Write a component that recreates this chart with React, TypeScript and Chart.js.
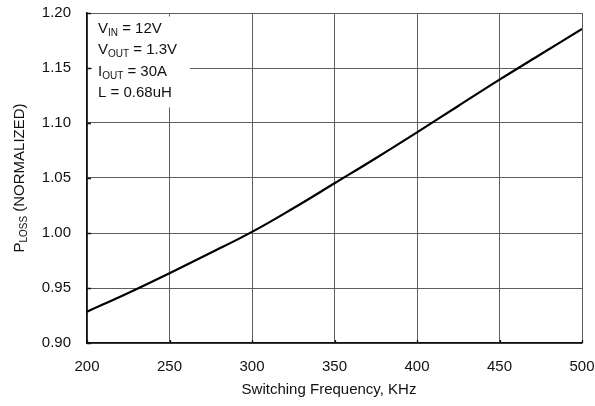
import React, { useEffect, useRef } from "react";
import { Chart, registerables } from "chart.js";

Chart.register(...registerables);

// ---- data ----
const frequencies = [200, 225, 250, 275, 300, 325, 350, 375, 400, 425, 450, 475, 500];
const ploss = [0.9285, 0.9455, 0.9635, 0.982, 1.001, 1.0225, 1.0452, 1.068, 1.0915, 1.1155, 1.1394, 1.1625, 1.1854];
const xTickValues = [200, 250, 300, 350, 400, 450, 500];
const yTickValues = [0.9, 0.95, 1.0, 1.05, 1.1, 1.15, 1.2];
const xTitle = "Switching Frequency, KHz";
type Part = [string, boolean];
const yTitleParts: Part[] = [["P", false], ["LOSS", true], [" (NORMALIZED)", false]];
const noteLines: Part[][] = [
  [["V", false], ["IN", true], [" = 12V", false]],
  [["V", false], ["OUT", true], [" = 1.3V", false]],
  [["I", false], ["OUT", true], [" = 30A", false]],
  [["L = 0.68uH", false]],
];

const FONT = "'Liberation Sans', Arial, Helvetica, sans-serif";
const MAIN = 15;
const SUB = 10;
const TEXT = "#111111";

function richWidth(ctx: CanvasRenderingContext2D, parts: Part[]) {
  let w = 0;
  for (const [t, sub] of parts) {
    ctx.font = `${sub ? SUB : MAIN}px ${FONT}`;
    w += ctx.measureText(t).width;
  }
  return w;
}

function drawRich(ctx: CanvasRenderingContext2D, parts: Part[], x: number, y: number) {
  ctx.textAlign = "left";
  ctx.textBaseline = "alphabetic";
  let cx = x;
  for (const [t, sub] of parts) {
    ctx.font = `${sub ? SUB : MAIN}px ${FONT}`;
    ctx.fillText(t, cx, sub ? y + 3 : y);
    cx += ctx.measureText(t).width;
  }
}

const decorPlugin = {
  id: "decor",
  afterDraw(chart: any) {
    const ctx: CanvasRenderingContext2D = chart.ctx;
    const { left, top, bottom } = chart.chartArea;
    const xs = chart.scales.x;
    const ys = chart.scales.y;
    ctx.save();
    // inner ticks
    ctx.strokeStyle = "#111";
    ctx.lineWidth = 1.3;
    ctx.beginPath();
    for (const v of yTickValues) {
      const py = Math.round(ys.getPixelForValue(v)) + 0.5;
      ctx.moveTo(left, py);
      ctx.lineTo(left + 4, py);
    }
    for (const v of xTickValues) {
      const px = Math.round(xs.getPixelForValue(v)) + 0.5;
      ctx.moveTo(px, bottom);
      ctx.lineTo(px, bottom - 3);
    }
    ctx.stroke();
    // annotation box
    ctx.fillStyle = "#ffffff";
    ctx.fillRect(left + 5, top + 3.5, 98, 91);
    ctx.fillStyle = TEXT;
    noteLines.forEach((line, i) => drawRich(ctx, line, 98, 33 + i * 21.3));
    // x title
    ctx.font = `${MAIN}px ${FONT}`;
    ctx.textAlign = "center";
    ctx.textBaseline = "alphabetic";
    ctx.fillText(xTitle, 329, 394);
    // y title
    const w = richWidth(ctx, yTitleParts);
    ctx.translate(24, (top + bottom) / 2);
    ctx.rotate(-Math.PI / 2);
    drawRich(ctx, yTitleParts, -w / 2, 0);
    ctx.restore();
  },
};

const zeroPad = (s: any) => {
  s.paddingLeft = 0;
  s.paddingRight = 0;
  s.paddingTop = 0;
  s.paddingBottom = 0;
};

export default function App() {
  const ref = useRef<HTMLCanvasElement>(null);
  useEffect(() => {
    if (!ref.current) return;
    const chart = new Chart(ref.current, {
      type: "line",
      data: {
        datasets: [
          {
            data: frequencies.map((f, i) => ({ x: f, y: ploss[i] })),
            borderColor: "#000",
            borderWidth: 2.2,
            pointRadius: 0,
            tension: 0.4,
            fill: false,
          },
        ],
      },
      options: {
        animation: false,
        responsive: false,
        devicePixelRatio: 1,
        events: [],
        layout: { padding: { left: 0, top: 13, right: 13, bottom: 0 } },
        plugins: { legend: { display: false }, tooltip: { enabled: false } },
        scales: {
          x: {
            type: "linear",
            min: 200,
            max: 500,
            afterBuildTicks: (s: any) => {
              s.ticks = xTickValues.map((v) => ({ value: v }));
            },
            afterFit: (s: any) => {
              s.height = 63;
              zeroPad(s);
            },
            grid: { color: "#5e5e5e", lineWidth: 1, drawTicks: false },
            border: { color: "#111", width: 1.5 },
            ticks: {
              padding: 15,
              color: TEXT,
              font: { family: FONT, size: MAIN },
              maxRotation: 0,
              callback: (v: any) => String(v),
            },
          },
          y: {
            type: "linear",
            min: 0.9,
            max: 1.2,
            afterBuildTicks: (s: any) => {
              s.ticks = yTickValues.map((v) => ({ value: v }));
            },
            afterFit: (s: any) => {
              s.width = 87;
              zeroPad(s);
            },
            grid: { color: "#5e5e5e", lineWidth: 1, drawTicks: false },
            border: { color: "#111", width: 1.5 },
            ticks: {
              padding: 16,
              color: TEXT,
              font: { family: FONT, size: MAIN },
              callback: (v: any) => Number(v).toFixed(2),
            },
          },
        },
      },
      plugins: [decorPlugin],
    } as any);
    return () => chart.destroy();
  }, []);
  return (
    <div style={{ position: "fixed", left: 0, top: 0, width: 595, height: 406, background: "#fff" }}>
      <canvas ref={ref} width={595} height={406} style={{ width: 595, height: 406, display: "block" }} />
    </div>
  );
}
